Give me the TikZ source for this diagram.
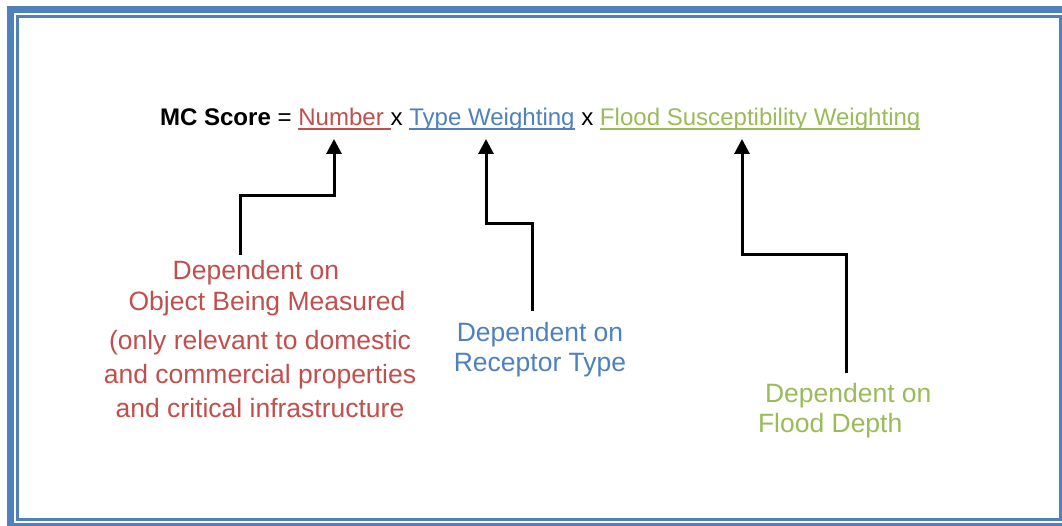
\documentclass[tikz,border=0pt]{standalone}
\usepackage{fontspec}
\setmainfont{Liberation Sans}
\usetikzlibrary{arrows.meta}
\definecolor{bordblue}{HTML}{4F81BD}
\definecolor{txred}{HTML}{C0504D}
\definecolor{txblue}{HTML}{4F81BD}
\definecolor{txgreen}{HTML}{9BBB59}
\tikzset{
  part/.style={anchor=base west, inner sep=0pt, outer sep=0pt, font=\fontsize{24.05}{28}\selectfont},
  uline/.style={line width=2pt},
  lbl/.style={inner sep=0pt, outer sep=0pt, font=\fontsize{26.5}{31}\selectfont},
  conn/.style={line width=3pt, black, -{Triangle[width=15pt,length=15pt]}},
}
\begin{document}
\begin{tikzpicture}[x=1pt,y=-1pt]
\useasboundingbox (0,0) rectangle (1062,526);
\clip (0,0) rectangle (1062,526);
\fill[white] (0,0) rectangle (1062,526);
% border
\draw[bordblue, line width=7pt] (10.5,9.5) rectangle (1068,526.5);
\draw[bordblue, line width=3pt] (17.5,17) rectangle (1060.5,519);
% formula
\node[part] (mc) at (160,125.5) {\bfseries MC Score};
\node[part] (eq) at (mc.base east) {~=~\mbox{}};
\node[part, text=txred] (num) at (eq.base east) {Number~\mbox{}};
\node[part] (x1) at (num.base east) {x~\mbox{}};
\node[part, text=txblue] (tw) at (x1.base east) {Type Weighting};
\node[part] (x2) at (tw.base east) {~x~\mbox{}};
\node[part, text=txgreen] (fs) at (x2.base east) {Flood Susceptibility Weighting};
\draw[uline, txred] ([yshift=-4pt]num.base west) -- ([yshift=-4pt]num.base east);
\draw[uline, txblue] ([yshift=-4pt]tw.base west) -- ([yshift=-4pt]tw.base east);
\draw[uline, txgreen] ([yshift=-4pt]fs.base west) -- ([yshift=-4pt]fs.base east);
% labels (anchor base = last line baseline)
\node[lbl, text=txred, align=center, anchor=base] (rl) at (260,417)
  {Dependent on\hspace*{8pt}\\\hspace*{14pt}Object Being Measured\\[8pt](only relevant to domestic\\[3pt]and commercial properties\\[3pt]and critical infrastructure};
\node[lbl, text=txblue, align=center, anchor=base, font=\fontsize{26.5}{30}\selectfont] (bl) at (540,371)
  {Dependent on\\Receptor Type};
\node[lbl, text=txgreen, align=left, anchor=base west, font=\fontsize{26.5}{30}\selectfont] (gl) at (758,432)
  {\hspace*{7pt}Dependent on\\Flood Depth};
% connectors
\coordinate (rs) at (240,255);
\coordinate (rt) at (334,139);
\coordinate (bs) at (532,311);
\coordinate (bt) at (486,139);
\coordinate (gs) at (846,373);
\coordinate (gt) at (742,139);
\draw[conn] (rs) -- (240,196) -| (rt);
\draw[conn] (bs) -- (532,224) -| (bt);
\draw[conn] (gs) -- (846,255) -| (gt);
\end{tikzpicture}
\end{document}
